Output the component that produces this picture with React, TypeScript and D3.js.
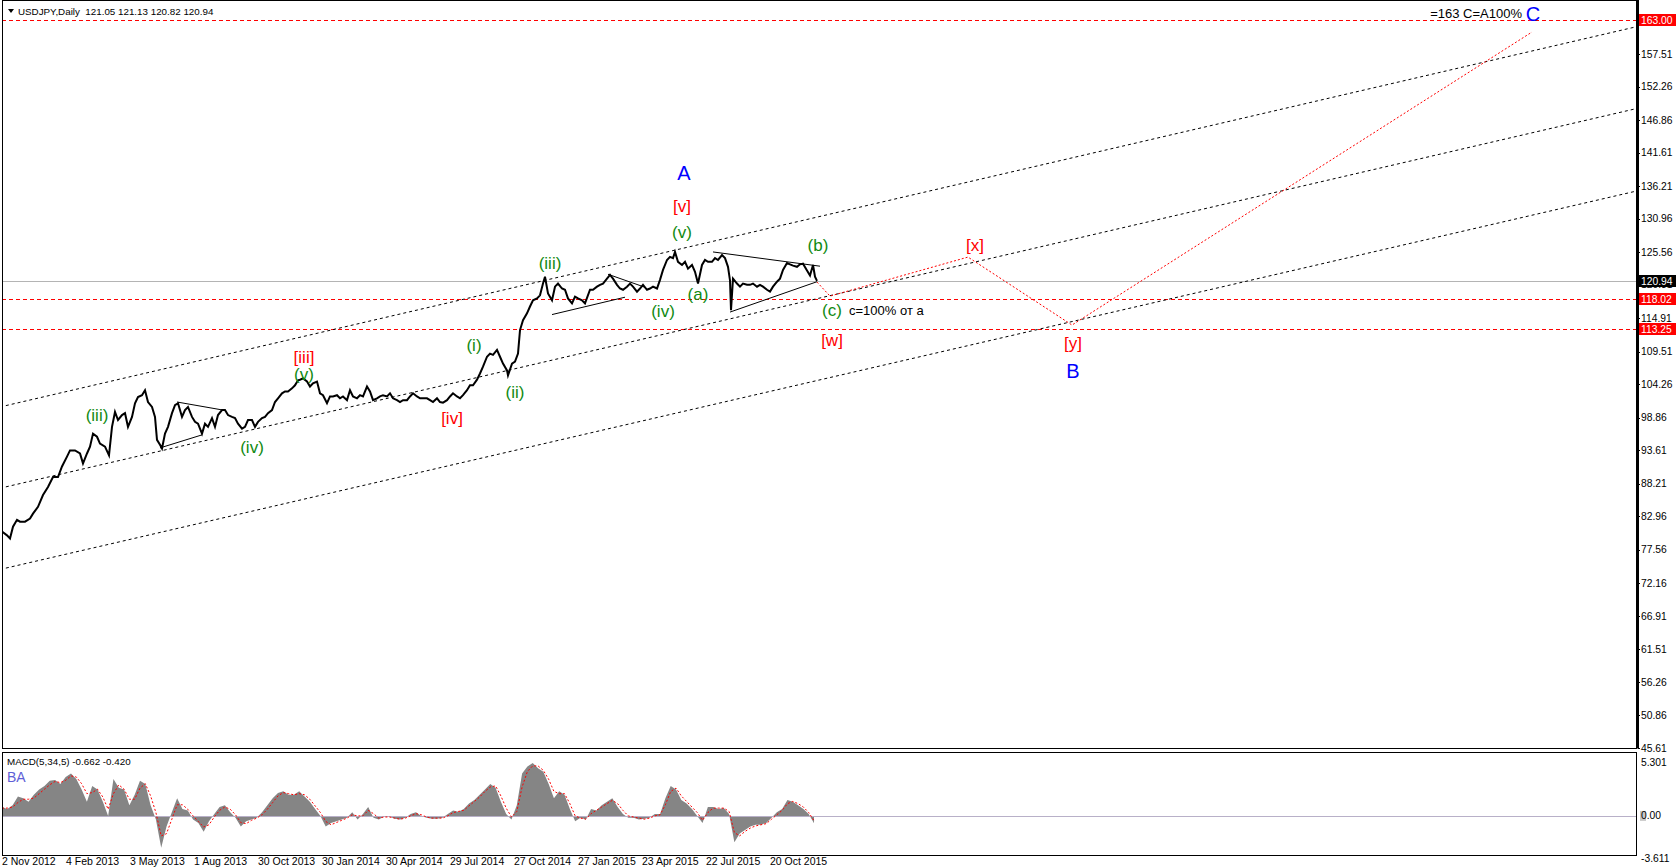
import * as d3 from 'd3';
import React, { useEffect, useRef } from 'react';

// bar index 0 = 2 Nov 2012, one bar per trading day
const priceBars = [
	0, 5, 8, 11, 15, 18, 23, 28, 31, 36, 41, 46, 51, 56, 60, 65, 68, 73, 78, 81, 85, 88, 91, 95, 98, 103, 107, 110, 113, 116,
	120, 123, 126, 130, 133, 136, 140, 143, 146, 150, 153, 155, 158, 160, 163, 166, 170, 173, 176, 180, 183, 186, 190, 193, 196,
	200, 203, 206, 210, 213, 216, 220, 223, 226, 230, 233, 236, 240, 243, 246, 250, 253, 256, 260, 263, 266, 270, 273, 276, 280,
	283, 286, 290, 293, 296, 298, 301, 305, 308, 311, 315, 318, 321, 325, 328, 331, 335, 338, 341, 345, 348, 351, 355, 358, 361,
	365, 368, 371, 375, 378, 381, 385, 388, 391, 395, 398, 401, 405, 408, 411, 415, 418, 421, 425, 428, 431, 435, 438, 441, 445,
	448, 451, 455, 458, 461, 465, 468, 471, 475, 478, 481, 485, 488, 491, 495, 498, 501, 505, 506, 510, 513, 516, 518, 521, 525,
	528, 531, 535, 538, 541, 543, 546, 550, 553, 556, 560, 563, 566, 570, 573, 576, 580, 583, 588, 591, 595, 598, 601, 605, 608,
	611, 615, 618, 621, 625, 628, 631, 635, 638, 641, 645, 648, 651, 655, 658, 661, 665, 668, 671, 673, 676, 680, 683, 686, 690,
	693, 696, 700, 703, 706, 710, 713, 716, 720, 723, 726, 728, 729, 731, 735, 738, 741, 745, 748, 751, 755, 758, 761, 765, 768,
	771, 775, 778, 781, 785, 788, 791, 795, 798, 801, 805, 808, 811, 813, 815,
];
const priceValues = [
	80.5, 79.9, 79.4, 81.3, 82.4, 82.1, 82.1, 82.6, 83.4, 84.5, 86.4, 87.7, 89.3, 89.3, 91.0, 92.6, 93.6, 93.6, 93.1, 91.5, 93.1,
	94.2, 96.3, 95.8, 94.7, 94.2, 92.8, 97.4, 99.8, 98.5, 99.3, 99.6, 97.4, 99.0, 101.2, 102.2, 102.5, 103.3, 101.4, 100.6, 99.0,
	95.3, 94.5, 93.9, 96.3, 97.4, 99.6, 100.9, 101.2, 99.0, 100.1, 100.6, 99.0, 98.2, 97.9, 96.3, 97.9, 97.4, 98.8, 97.4, 99.3,
	100.1, 100.1, 99.3, 99.0, 98.8, 97.9, 97.1, 97.4, 98.5, 98.5, 97.4, 98.2, 98.8, 99.0, 99.6, 100.1, 101.4, 102.0, 102.8, 103.1,
	103.1, 103.6, 104.1, 104.9, 105.0, 105.2, 104.7, 103.9, 104.4, 104.7, 102.8, 102.5, 101.2, 102.3, 102.3, 102.5, 102.0, 102.3,
	101.7, 103.3, 102.3, 102.0, 102.5, 102.3, 103.9, 103.1, 101.7, 102.0, 102.3, 102.5, 102.3, 102.8, 102.0, 101.7, 101.4, 101.7,
	101.7, 102.3, 102.8, 102.3, 102.0, 102.0, 102.0, 101.7, 101.4, 102.0, 101.4, 101.3, 101.7, 102.3, 102.8, 102.3, 102.0, 102.5,
	103.3, 104.1, 104.1, 105.0, 106.0, 107.1, 108.7, 109.2, 109.0, 109.8, 108.7, 107.6, 106.5, 105.7, 107.6, 107.9, 109.2, 113.0,
	114.6, 115.7, 116.8, 117.8, 118.1, 118.6, 120.5, 121.6, 118.9, 117.8, 120.0, 120.5, 119.7, 119.5, 118.1, 117.3, 118.4, 118.1,
	117.8, 117.3, 119.5, 119.5, 120.0, 120.3, 120.5, 121.3, 121.9, 121.3, 120.3, 119.7, 119.5, 120.0, 120.5, 120.0, 119.2, 119.7,
	120.3, 119.5, 119.7, 120.0, 119.7, 121.1, 122.7, 124.3, 124.8, 124.6, 125.6, 124.0, 123.5, 124.0, 122.9, 123.5, 122.4, 120.5,
	123.5, 124.3, 124.0, 124.0, 124.6, 124.3, 125.1, 124.6, 123.2, 121.0, 116.2, 121.3, 120.5, 120.0, 120.5, 120.3, 120.3, 120.5,
	120.0, 120.3, 120.0, 119.5, 119.2, 120.0, 120.8, 121.3, 122.7, 123.8, 123.6, 123.4, 123.2, 123.6, 123.7, 122.6, 121.8, 123.5,
	121.6, 120.94,
];

// MACD(5,34,5) main histogram and signal, evenly sampled from bar 0 to bar 812
const macdValues = [
	0.79, 0.63, 0.95, 1.75, 1.59, 1.27, 1.9, 2.38, 2.7, 3.17, 3.24, 2.86, 3.49, 3.81, 3.33, 2.38, 1.27, 2.7, 2.38, 1.27,
	0, 3.33, 2.54, 2.38, 0.95, 1.9, 3.17, 2.86, 0.95, -0.32, -2.86, -0.95, 0.32, 1.59, 0.63, 0.48, -0.32, -0.63, -1.43, -0.48,
	0.16, 0.79, 0.95, 0.32, -0.16, -0.95, -0.48, -0.32, -0.16, 0.32, 0.95, 1.59, 2.06, 2.22, 1.9, 1.9, 2.22, 1.75, 1.27, 0.63,
	0, -0.95, -0.63, -0.48, -0.32, -0.16, 0.32, -0.32, 0.16, 0.79, -0.16, -0.32, -0.06, -0.06, -0.25, -0.32, -0.16, 0.16, 0.32, 0,
	-0.16, -0.25, -0.25, -0.16, 0.16, 0.48, 0.38, 0.63, 1.11, 1.43, 1.9, 2.38, 2.86, 2.54, 1.27, 0.16, -0.32, 0.95, 3.81, 4.44,
	4.76, 4.29, 3.97, 2.86, 1.59, 2.22, 1.9, 0.63, -0.48, -0.16, -0.32, 0.63, 0.48, 0.95, 1.27, 1.59, 0.79, 0.16, -0.16, -0.16,
	-0.32, -0.25, -0.16, 0.16, 0.16, 1.59, 2.7, 2.38, 1.43, 1.11, 0.63, 0, -0.63, 0.79, 0.79, 0.63, 0.7, 0.16, -2.38, -1.59,
	-1.27, -0.95, -0.79, -0.79, -0.63, -0.16, 0.32, 0.63, 1.43, 1.27, 0.95, 0.63, 0.16, -0.66,
];
const signalValues = [
	0.7, 0.7, 0.8, 1.2, 1.5, 1.5, 1.6, 2.0, 2.4, 2.8, 3.1, 3.0, 3.2, 3.6, 3.5, 2.9, 2.0, 2.1, 2.4, 1.7,
	0.6, 2.0, 2.8, 2.4, 1.5, 1.5, 2.5, 2.9, 1.8, 0.3, -1.8, -1.6, -0.3, 1.0, 1.0, 0.6, 0.0, -0.5, -1.0, -0.8,
	-0.1, 0.5, 0.8, 0.6, 0.1, -0.6, -0.7, -0.4, -0.2, 0.1, 0.6, 1.2, 1.8, 2.1, 2.0, 1.9, 2.0, 1.9, 1.5, 0.9,
	0.3, -0.5, -0.8, -0.6, -0.4, -0.2, 0.1, 0.0, 0.0, 0.5, 0.2, -0.2, -0.1, -0.1, -0.2, -0.3, -0.2, 0.0, 0.2, 0.1,
	-0.1, -0.2, -0.2, -0.2, 0.0, 0.3, 0.4, 0.5, 0.9, 1.3, 1.7, 2.2, 2.6, 2.7, 1.8, 0.7, -0.1, 0.4, 2.6, 4.0,
	4.5, 4.5, 4.1, 3.3, 2.2, 2.0, 2.0, 1.1, 0.0, -0.2, -0.3, 0.2, 0.5, 0.8, 1.1, 1.4, 1.1, 0.5, 0.0, -0.1,
	-0.2, -0.3, -0.2, 0.0, 0.1, 1.0, 2.2, 2.5, 1.8, 1.3, 0.8, 0.3, -0.4, 0.3, 0.7, 0.7, 0.7, 0.4, -1.5, -1.8,
	-1.4, -1.1, -0.9, -0.8, -0.7, -0.3, 0.1, 0.5, 1.1, 1.3, 1.1, 0.8, 0.3, -0.42,
];
const macdLastBar = 812;

const priceTicks = ['157.51', '152.26', '146.86', '141.61', '136.21', '130.96', '125.56', '120.31', '114.91', '109.51',
	'104.26', '98.86', '93.61', '88.21', '82.96', '77.56', '72.16', '66.91', '61.51', '56.26', '50.86', '45.61'];
const dateLabels = ['2 Nov 2012', '4 Feb 2013', '3 May 2013', '1 Aug 2013', '30 Oct 2013', '30 Jan 2014', '30 Apr 2014',
	'29 Jul 2014', '27 Oct 2014', '27 Jan 2015', '23 Apr 2015', '22 Jul 2015', '20 Oct 2015'];
const barsPerDateLabel = 64;

const levelPrices = [163.0, 118.02, 113.25];
const lastPrice = 120.94;

// parallel channel: price at bar -2 and at bar 1634
const channelBars = [-2, 1634];
const channelPrices = [[100.6, 161.9], [87.5, 148.7], [74.4, 135.4]];

// triangles: [bar1, price1, bar2, price2]
const triangleLines = [
	[175, 101.4, 221, 100.1], [158, 94.0, 200, 96.1],
	[606, 122.0, 643, 119.9], [550, 115.5, 623, 118.3],
	[711, 125.6, 818, 123.3], [728, 115.9, 815, 120.8],
];

// projected path
const forecastBars = [815, 828, 966, 1070, 1530];
const forecastPrices = [120.74, 118.48, 124.77, 113.81, 161.06];

type WaveLabel = { text: string; bar: number; price: number; kind: 'green' | 'red' | 'blue' | 'note' | 'noteEnd' };
const waveLabels: WaveLabel[] = [
	{ text: '(iii)', bar: 95, price: 99.3, kind: 'green' },
	{ text: '(iv)', bar: 250, price: 94.1, kind: 'green' },
	{ text: '[iii]', bar: 302, price: 108.7, kind: 'red' },
	{ text: '(v)', bar: 302, price: 105.9, kind: 'green' },
	{ text: '[iv]', bar: 450, price: 98.8, kind: 'red' },
	{ text: '(i)', bar: 472, price: 110.6, kind: 'green' },
	{ text: '(ii)', bar: 513, price: 103.0, kind: 'green' },
	{ text: '(iii)', bar: 548, price: 123.8, kind: 'green' },
	{ text: '(iv)', bar: 661, price: 116.1, kind: 'green' },
	{ text: '(a)', bar: 696, price: 118.8, kind: 'green' },
	{ text: '(v)', bar: 680, price: 128.8, kind: 'green' },
	{ text: '[v]', bar: 680, price: 133.0, kind: 'red' },
	{ text: 'A', bar: 682, price: 138.3, kind: 'blue' },
	{ text: '(b)', bar: 816, price: 126.7, kind: 'green' },
	{ text: '(c)', bar: 830, price: 116.2, kind: 'green' },
	{ text: 'c=100% от а', bar: 847, price: 116.2, kind: 'note' },
	{ text: '[w]', bar: 830, price: 111.4, kind: 'red' },
	{ text: '[x]', bar: 973, price: 126.7, kind: 'red' },
	{ text: '[y]', bar: 1071, price: 110.9, kind: 'red' },
	{ text: 'B', bar: 1071, price: 106.5, kind: 'blue' },
	{ text: '=163 C=A100%', bar: 1520, price: 164.0, kind: 'noteEnd' },
	{ text: 'C', bar: 1531, price: 164.0, kind: 'blue' },
];

const FONT = "'Liberation Sans', Arial, sans-serif";
const labelStyle = {
	green: { fill: '#118a11', size: 17, anchor: 'middle' },
	red: { fill: '#ff0000', size: 17, anchor: 'middle' },
	blue: { fill: '#0000ff', size: 20, anchor: 'middle' },
	note: { fill: '#000000', size: 13, anchor: 'start' },
	noteEnd: { fill: '#000000', size: 13, anchor: 'end' },
};

export default function App(): React.JSX.Element {
	const chartRef = useRef<SVGSVGElement | null>(null);

	useEffect(() => {
		if (chartRef.current === null) return;
		const svg = d3.select(chartRef.current);
		svg.selectAll('*').remove();

		const width = 1676;
		const height = 867;
		const main = { left: 2, right: 1636, top: 0, bottom: 748 };
		const sub = { top: 752, bottom: 855 };

		const x = d3.scaleLinear().domain([0, 1634]).range([main.left, main.right]);
		const y = d3.scaleLinear().domain([45.61, 163]).range([main.bottom, 20]);
		const ym = d3.scaleLinear().domain([-3.611, 5.301]).range([856, 757]);

		svg.attr('width', width).attr('height', height);
		svg.append('rect').attr('width', width).attr('height', height).attr('fill', '#fff');

		const defs = svg.append('defs');
		defs.append('clipPath').attr('id', 'mainClip')
			.append('rect').attr('x', main.left).attr('y', main.top)
			.attr('width', main.right - main.left).attr('height', main.bottom - main.top);
		defs.append('clipPath').attr('id', 'subClip')
			.append('rect').attr('x', main.left).attr('y', sub.top)
			.attr('width', main.right - main.left).attr('height', sub.bottom - sub.top);

		const g = svg.append('g').attr('clip-path', 'url(#mainClip)');

		// bid line
		g.append('line')
			.attr('x1', main.left).attr('x2', main.right)
			.attr('y1', Math.round(y(lastPrice)) + 0.5).attr('y2', Math.round(y(lastPrice)) + 0.5)
			.attr('stroke', '#b4b4b4').attr('stroke-width', 1);

		// horizontal levels
		g.selectAll('line.level')
			.data(levelPrices)
			.enter()
			.append('line')
			.attr('class', 'level')
			.attr('x1', main.left).attr('x2', main.right)
			.attr('y1', (d) => Math.round(y(d)) + 0.5).attr('y2', (d) => Math.round(y(d)) + 0.5)
			.attr('stroke', '#ff0000').attr('stroke-width', 1).attr('stroke-dasharray', '4,3');

		// channel
		g.selectAll('line.channel')
			.data(channelPrices)
			.enter()
			.append('line')
			.attr('class', 'channel')
			.attr('x1', x(channelBars[0])).attr('x2', x(channelBars[1]))
			.attr('y1', (d) => y(d[0])).attr('y2', (d) => y(d[1]))
			.attr('stroke', '#000').attr('stroke-width', 1).attr('stroke-dasharray', '3,3');

		// forecast
		const forecastLine = d3.line<number>()
			.x((_, i) => x(forecastBars[i]))
			.y((d) => y(d));
		g.append('path')
			.attr('d', forecastLine(forecastPrices))
			.attr('fill', 'none').attr('stroke', '#ff0000').attr('stroke-width', 1).attr('stroke-dasharray', '2,2');

		// triangles
		g.selectAll('line.tri')
			.data(triangleLines)
			.enter()
			.append('line')
			.attr('class', 'tri')
			.attr('x1', (d) => x(d[0])).attr('y1', (d) => y(d[1]))
			.attr('x2', (d) => x(d[2])).attr('y2', (d) => y(d[3]))
			.attr('stroke', '#000').attr('stroke-width', 1);

		// price
		const priceLine = d3.line<number>()
			.x((_, i) => x(priceBars[i]))
			.y((d) => y(d));
		g.append('path')
			.attr('d', priceLine(priceValues))
			.attr('fill', 'none').attr('stroke', '#000').attr('stroke-width', 2).attr('stroke-linejoin', 'miter');

		// wave labels
		svg.append('g')
			.selectAll('text')
			.data(waveLabels)
			.enter()
			.append('text')
			.attr('x', (d) => x(d.bar))
			.attr('y', (d) => y(d.price))
			.attr('dy', '0.36em')
			.attr('text-anchor', (d) => labelStyle[d.kind].anchor)
			.attr('font-family', FONT)
			.attr('font-size', (d) => labelStyle[d.kind].size)
			.attr('fill', (d) => labelStyle[d.kind].fill)
			.text((d) => d.text);

		// header
		svg.append('path').attr('d', 'M8,9 L14,9 L11,13 Z').attr('fill', '#000');
		svg.append('text')
			.attr('x', 18).attr('y', 14.5)
			.attr('font-family', FONT).attr('font-size', 9.8).attr('fill', '#000')
			.attr('xml:space', 'preserve')
			.text('USDJPY,Daily  121.05 121.13 120.82 120.94');

		// MACD panel
		const sg = svg.append('g').attr('clip-path', 'url(#subClip)');
		const macdIndex = d3.scaleLinear().domain([0, macdValues.length - 1]).range([0, macdLastBar]);
		const macdArea = d3.area<number>()
			.x((_, i) => x(macdIndex(i)))
			.y0(ym(0))
			.y1((d) => ym(d));
		sg.append('path').attr('d', macdArea(macdValues)).attr('fill', '#858585');
		sg.append('line')
			.attr('x1', main.left).attr('x2', main.right)
			.attr('y1', Math.round(ym(0)) + 0.5).attr('y2', Math.round(ym(0)) + 0.5)
			.attr('stroke', '#b8b0c8').attr('stroke-width', 1);
		const signalLine = d3.line<number>()
			.x((_, i) => x(macdIndex(i)))
			.y((d) => ym(d));
		sg.append('path')
			.attr('d', signalLine(signalValues))
			.attr('fill', 'none').attr('stroke', '#ff0000').attr('stroke-width', 1).attr('stroke-dasharray', '2,2');

		svg.append('text')
			.attr('x', 7).attr('y', 765)
			.attr('font-family', FONT).attr('font-size', 9.8).attr('fill', '#000')
			.text('MACD(5,34,5) -0.662 -0.420');
		svg.append('text')
			.attr('x', 7).attr('y', 782)
			.attr('font-family', FONT).attr('font-size', 14).attr('fill', '#5f5fd7')
			.text('BA');

		// frames
		svg.append('rect')
			.attr('x', main.left + 0.5).attr('y', main.top + 0.5)
			.attr('width', main.right - main.left).attr('height', main.bottom - main.top)
			.attr('fill', 'none').attr('stroke', '#000');
		svg.append('line')
			.attr('x1', main.right + 1.5).attr('x2', main.right + 1.5)
			.attr('y1', main.top).attr('y2', main.bottom + 0.5)
			.attr('stroke', '#000').attr('stroke-width', 3);
		svg.append('rect')
			.attr('x', main.left + 0.5).attr('y', sub.top + 0.5)
			.attr('width', main.right - main.left).attr('height', sub.bottom - sub.top)
			.attr('fill', 'none').attr('stroke', '#000');

		// right price axis
		const axis = svg.append('g').attr('font-family', FONT).attr('font-size', 10.3);
		axis.selectAll('text.tick')
			.data(priceTicks)
			.enter()
			.append('text')
			.attr('class', 'tick')
			.attr('x', main.right + 5)
			.attr('y', (d) => y(+d))
			.attr('dy', '0.35em')
			.attr('fill', '#000')
			.text((d) => d);
		axis.selectAll('line.tick')
			.data(priceTicks)
			.enter()
			.append('line')
			.attr('class', 'tick')
			.attr('x1', main.right + 2).attr('x2', main.right + 4)
			.attr('y1', (d) => Math.round(y(+d)) + 0.5).attr('y2', (d) => Math.round(y(+d)) + 0.5)
			.attr('stroke', '#000');

		const boxes = [
			...levelPrices.map((p) => ({ value: p, fill: '#ff0000' })),
			{ value: lastPrice, fill: '#000000' },
		];
		const box = axis.selectAll('g.box')
			.data(boxes)
			.enter()
			.append('g')
			.attr('class', 'box')
			.attr('transform', (d) => `translate(${main.right + 3},${Math.round(y(d.value))})`);
		box.append('rect')
			.attr('x', 0).attr('y', -6).attr('width', 37).attr('height', 12)
			.attr('fill', (d) => d.fill);
		box.append('text')
			.attr('x', 2).attr('dy', '0.35em')
			.attr('fill', '#fff')
			.text((d) => d.value.toFixed(2));

		// MACD axis
		const macdTicks = [
			{ text: '5.301', at: ym(5.301) + 5 },
			{ text: '0.00', at: ym(0) },
			{ text: '-3.611', at: sub.bottom + 3 },
		];
		axis.append('rect')
			.attr('x', main.right + 4).attr('y', ym(0) - 5).attr('width', 6).attr('height', 10)
			.attr('fill', '#c8c8c8');
		axis.selectAll('text.mtick')
			.data(macdTicks)
			.enter()
			.append('text')
			.attr('class', 'mtick')
			.attr('x', main.right + 5)
			.attr('y', (d) => d.at)
			.attr('dy', '0.35em')
			.attr('fill', '#000')
			.text((d) => d.text);

		// date axis
		svg.append('g').attr('font-family', FONT).attr('font-size', 10.5)
			.selectAll('text')
			.data(dateLabels)
			.enter()
			.append('text')
			.attr('x', (_, i) => x(i * barsPerDateLabel))
			.attr('y', 865)
			.attr('fill', '#000')
			.text((d) => d);
	}, []);

	return (
		<svg ref={chartRef} style={{ position: 'absolute', left: 0, top: 0, display: 'block' }} />
	);
}
